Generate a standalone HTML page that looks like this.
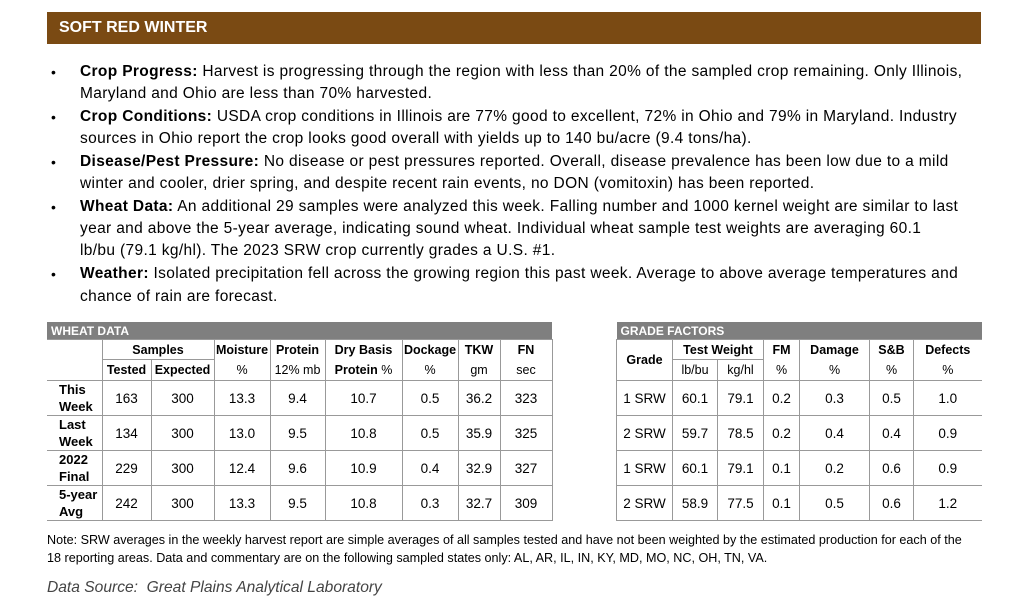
<!DOCTYPE html>
<html><head><meta charset="utf-8"><style>
body{margin:0;width:1024px;height:604px;background:#fff;font-family:"Liberation Sans",sans-serif;color:#000;position:relative;overflow:hidden}
.title{position:absolute;left:47px;top:12px;width:934px;height:32px;background:#7a4a13;color:#fff;font-weight:bold;font-size:16px;line-height:32px;padding-left:12px;box-sizing:border-box}
.ln{position:absolute;left:80px;font-size:15.5px;white-space:nowrap;letter-spacing:0.35px}
.bl{position:absolute;left:51px;font-size:14px}
table{position:absolute;border-collapse:collapse;font-size:12.5px;table-layout:fixed}
td{border:1px solid #999;text-align:center;padding:0;white-space:nowrap}
.hd{background:#7f7f7f;color:#fff;font-weight:bold;text-align:left;padding-left:4px;height:17px;border:none;font-size:12px}
.b{font-weight:bold}
.dr td{height:34px;font-size:13.5px}
.dr td.lab{text-align:left;padding-left:12px;font-weight:bold;line-height:17px;font-size:13px}
.note{position:absolute;left:47px;font-size:12.6px;white-space:nowrap}
</style></head><body>
<div class="title">SOFT RED WINTER</div>
<div class="bl" style="top:64px">•</div>
<div class="ln" style="top:63px"><b>Crop Progress:</b> Harvest is progressing through the region with less than 20% of the sampled crop remaining. Only Illinois,</div>
<div class="ln" style="top:85px">Maryland and Ohio are less than 70% harvested.</div>
<div class="bl" style="top:109px">•</div>
<div class="ln" style="top:108px"><b>Crop Conditions:</b> USDA crop conditions in Illinois are 77% good to excellent, 72% in Ohio and 79% in Maryland. Industry</div>
<div class="ln" style="top:130px">sources in Ohio report the crop looks good overall with yields up to 140 bu/acre (9.4 tons/ha).</div>
<div class="bl" style="top:154px">•</div>
<div class="ln" style="top:153px"><b>Disease/Pest Pressure:</b> No disease or pest pressures reported. Overall, disease prevalence has been low due to a mild</div>
<div class="ln" style="top:175px">winter and cooler, drier spring, and despite recent rain events, no DON (vomitoxin) has been reported.</div>
<div class="bl" style="top:199px">•</div>
<div class="ln" style="top:198px"><b>Wheat Data:</b> An additional 29 samples were analyzed this week. Falling number and 1000 kernel weight are similar to last</div>
<div class="ln" style="top:220px">year and above the 5-year average, indicating sound wheat. Individual wheat sample test weights are averaging 60.1</div>
<div class="ln" style="top:242px">lb/bu (79.1 kg/hl). The 2023 SRW crop currently grades a U.S. #1.</div>
<div class="bl" style="top:266px">•</div>
<div class="ln" style="top:265px"><b>Weather:</b> Isolated precipitation fell across the growing region this past week. Average to above average temperatures and</div>
<div class="ln" style="top:288px">chance of rain are forecast.</div>

<table style="left:47px;top:322px;width:505px">
<colgroup><col style="width:55px"><col style="width:49px"><col style="width:63px"><col style="width:56px"><col style="width:55px"><col style="width:77px"><col style="width:56px"><col style="width:42px"><col style="width:52px"></colgroup>
<tr><td colspan="9" class="hd">WHEAT DATA</td></tr>
<tr style="height:20px"><td rowspan="2" style="border-left:none"></td><td colspan="2" class="b" style="border-bottom:1px solid #999">Samples</td><td class="b" style="border-bottom:none">Moisture</td><td class="b" style="border-bottom:none">Protein</td><td class="b" style="border-bottom:none">Dry Basis</td><td class="b" style="border-bottom:none">Dockage</td><td class="b" style="border-bottom:none">TKW</td><td class="b" style="border-bottom:none">FN</td></tr>
<tr style="height:21px"><td class="b">Tested</td><td class="b">Expected</td><td style="border-top:none">%</td><td style="border-top:none">12% mb</td><td style="border-top:none"><b>Protein</b> %</td><td style="border-top:none">%</td><td style="border-top:none">gm</td><td style="border-top:none">sec</td></tr>
<tr class="dr"><td class="lab" style="border-left:none">This<br>Week</td><td>163</td><td>300</td><td>13.3</td><td>9.4</td><td>10.7</td><td>0.5</td><td>36.2</td><td>323</td></tr>
<tr class="dr"><td class="lab" style="border-left:none">Last<br>Week</td><td>134</td><td>300</td><td>13.0</td><td>9.5</td><td>10.8</td><td>0.5</td><td>35.9</td><td>325</td></tr>
<tr class="dr"><td class="lab" style="border-left:none">2022<br>Final</td><td>229</td><td>300</td><td>12.4</td><td>9.6</td><td>10.9</td><td>0.4</td><td>32.9</td><td>327</td></tr>
<tr class="dr"><td class="lab" style="border-left:none">5-year<br>Avg</td><td>242</td><td>300</td><td>13.3</td><td>9.5</td><td>10.8</td><td>0.3</td><td>32.7</td><td>309</td></tr>
</table>

<table style="left:616px;top:322px;width:365px">
<colgroup><col style="width:56px"><col style="width:45px"><col style="width:46px"><col style="width:36px"><col style="width:70px"><col style="width:44px"><col style="width:68px"></colgroup>
<tr><td colspan="7" class="hd">GRADE FACTORS</td></tr>
<tr style="height:20px"><td rowspan="2" class="b">Grade</td><td colspan="2" class="b">Test Weight</td><td class="b" style="border-bottom:none">FM</td><td class="b" style="border-bottom:none">Damage</td><td class="b" style="border-bottom:none">S&amp;B</td><td class="b" style="border-bottom:none;border-right:none">Defects</td></tr>
<tr style="height:21px"><td>lb/bu</td><td>kg/hl</td><td style="border-top:none">%</td><td style="border-top:none">%</td><td style="border-top:none">%</td><td style="border-top:none;border-right:none">%</td></tr>
<tr class="dr"><td>1 SRW</td><td>60.1</td><td>79.1</td><td>0.2</td><td>0.3</td><td>0.5</td><td style="border-right:none">1.0</td></tr>
<tr class="dr"><td>2 SRW</td><td>59.7</td><td>78.5</td><td>0.2</td><td>0.4</td><td>0.4</td><td style="border-right:none">0.9</td></tr>
<tr class="dr"><td>1 SRW</td><td>60.1</td><td>79.1</td><td>0.1</td><td>0.2</td><td>0.6</td><td style="border-right:none">0.9</td></tr>
<tr class="dr"><td>2 SRW</td><td>58.9</td><td>77.5</td><td>0.1</td><td>0.5</td><td>0.6</td><td style="border-right:none">1.2</td></tr>
</table>

<div class="note" style="top:533px">Note: SRW averages in the weekly harvest report are simple averages of all samples tested and have not been weighted by the estimated production for each of the</div>
<div class="note" style="top:551px">18 reporting areas. Data and commentary are on the following sampled states only: AL, AR, IL, IN, KY, MD, MO, NC, OH, TN, VA.</div>
<div style="position:absolute;left:47px;top:579px;font-size:15.6px;font-style:italic;color:#444">Data Source:&nbsp; Great Plains Analytical Laboratory</div>
</body></html>
